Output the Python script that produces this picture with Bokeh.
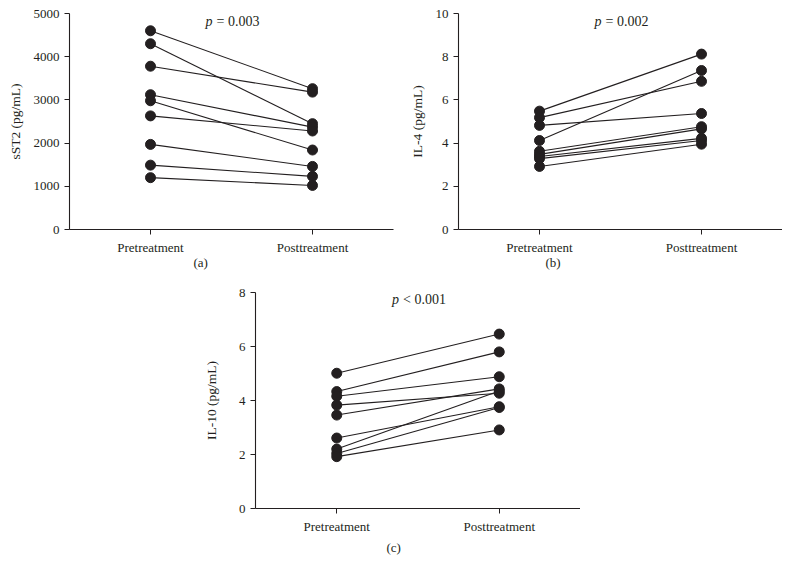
from bokeh.plotting import figure
from bokeh.layouts import column, row
from bokeh.models import Range1d, FixedTicker, Label, Title
from bokeh.embed import file_html
from bokeh.resources import INLINE

categories = ["Pretreatment", "Posttreatment"]

sst2_pre = [4600, 4300, 3780, 3120, 2980, 2630, 1970, 1490, 1200]
sst2_post = [3260, 2450, 3180, 2370, 1840, 2280, 1460, 1230, 1020]

il4_pre = [5.48, 5.18, 4.82, 4.12, 3.62, 3.48, 3.38, 3.28, 2.92]
il4_post = [8.12, 6.86, 5.37, 7.36, 4.76, 4.66, 4.22, 4.12, 3.95]

il10_pre = [5.01, 4.33, 4.16, 3.83, 3.46, 2.61, 2.20, 2.04, 1.92]
il10_post = [6.46, 5.80, 4.88, 4.27, 4.43, 3.77, 4.35, 3.74, 2.91]

sst2_ticks = [0, 1000, 2000, 3000, 4000, 5000]
il4_ticks = [0, 2, 4, 6, 8, 10]
il10_ticks = [0, 2, 4, 6, 8]

FONT = "Liberation Serif"
INK = "#231f20"


def make_panel(pre, post, yticks, ylabel, pval, p_y, tag, tag_offset,
               tag_standoff, bl, br, bt, bb, fw, fh, label_standoff):
    xs = list(range(len(categories)))
    x0, x1 = -0.5, len(categories) - 0.5
    y0, y1 = yticks[0], yticks[-1]
    p = figure(frame_width=fw, frame_height=fh,
               x_range=Range1d(x0, x1), y_range=Range1d(y0, y1),
               output_backend="svg", toolbar_location=None,
               min_border_left=bl, min_border_right=br,
               min_border_top=bt, min_border_bottom=bb)
    p.outline_line_color = None
    p.grid.visible = False
    p.background_fill_color = "white"
    p.border_fill_color = "white"

    for a, b in zip(pre, post):
        p.line(xs, [a, b], line_color=INK, line_width=1.1)
    px = [xs[0]] * len(pre) + [xs[1]] * len(post)
    p.scatter(px, list(pre) + list(post), size=10, fill_color=INK,
              line_color=INK)

    for ax in (p.xaxis[0], p.yaxis[0]):
        ax.axis_line_color = INK
        ax.axis_line_width = 1.1
        ax.major_tick_line_color = INK
        ax.major_tick_out = 5
        ax.major_tick_in = 0
        ax.minor_tick_line_color = None
        ax.major_label_text_font = FONT
        ax.major_label_text_font_size = "13px"
        ax.major_label_text_color = INK
        ax.major_label_standoff = 5
        ax.axis_label_text_font = FONT
        ax.axis_label_text_font_size = "13.5px"
        ax.axis_label_text_font_style = "normal"
        ax.axis_label_text_color = INK

    p.xaxis.ticker = FixedTicker(ticks=xs)
    p.xaxis.major_label_overrides = {i: c for i, c in enumerate(categories)}
    p.yaxis.ticker = FixedTicker(ticks=yticks)
    p.yaxis.axis_label = ylabel
    p.yaxis.axis_label_standoff = label_standoff

    sym, rest = pval
    p.add_layout(Label(x=0.5, y=p_y, text=sym, text_font=FONT,
                       text_font_size="14px", text_font_style="italic",
                       text_color=INK, text_align="left",
                       text_baseline="middle", x_offset=-26))
    p.add_layout(Label(x=0.5, y=p_y, text=rest, text_font=FONT,
                       text_font_size="14px", text_color=INK,
                       text_align="left", text_baseline="middle",
                       x_offset=-15))

    p.add_layout(Title(text=tag, align="left", offset=tag_offset,
                       vertical_align="top",
                       text_font=FONT, text_font_size="13px",
                       text_font_style="normal", text_color=INK,
                       standoff=tag_standoff), "below")
    return p


pa = make_panel(sst2_pre, sst2_post, sst2_ticks, "sST2 (pg/mL)",
                ("p", "= 0.003"), 4820, "(a)", 124, -6,
                69, 13, 13, 54, 324, 216, 8)
pb = make_panel(il4_pre, il4_post, il4_ticks, "IL-4 (pg/mL)",
                ("p", "= 0.002"), 9.64, "(b)", 87, -6,
                52, 0, 13, 54, 324, 216, 8)
pc = make_panel(il10_pre, il10_post, il10_ticks, "IL-10 (pg/mL)",
                ("p", "< 0.001"), 7.73, "(c)", 131, 6,
                255, 0, 9, 50, 325, 216, 17)

layout = column(row(pa, pb), pc)

open("out.html", "w").write(file_html(layout, INLINE))
